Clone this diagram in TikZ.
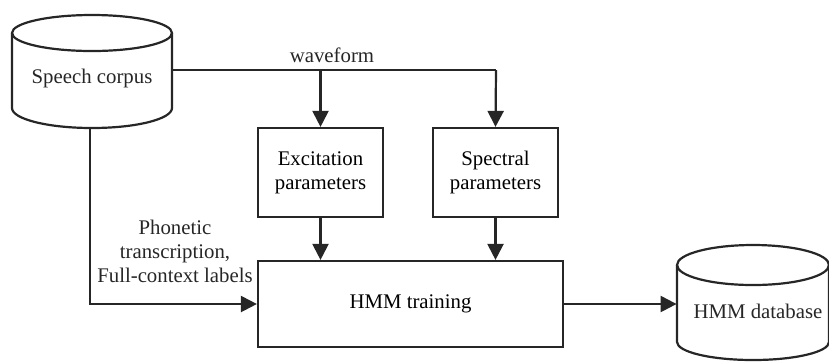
\documentclass[tikz,border=0pt]{standalone}
\usepackage{fontspec}
\setmainfont{Liberation Serif}
\usetikzlibrary{arrows.meta}
\tikzset{
  every node/.style={font=\fontsize{10.4}{12}\selectfont, inner sep=0pt},
  line/.style={line width=1.1pt, draw=black!85},
  arr/.style={line, -{Triangle[length=8pt,width=8pt]}},
  box/.style={line, draw, rectangle, align=center, fill=white},
  region/.style={rectangle, draw=none},
  label/.style={align=center, text=black!85},
}
\begin{document}
\begin{tikzpicture}[x=0.5pt,y=-0.5pt]
\useasboundingbox (0,0) rectangle (829,361);

% database drums
\draw[line] (12,33) -- (12,108) arc[start angle=180,end angle=0,x radius=80,y radius=20] -- (172,33);
\draw[line] (92,33) ellipse [x radius=80, y radius=18];
\draw[line] (677,265) -- (677,342) arc[start angle=180,end angle=0,x radius=76,y radius=18] -- (829,265);
\draw[line] (753,265) ellipse [x radius=76, y radius=20];

% node regions covering the drums
\node[region, minimum width=80pt, minimum height=56.5pt] (corpus) at (92,71.5) {};
\node[region, minimum width=76pt, minimum height=57.5pt] (db) at (753,302.5) {};
\node[label] (corpustext) at (92,78) {Speech corpus};
\node[label] (dbtext) at (758,311) {HMM database};

% processing boxes
\node[box, minimum width=62.5pt, minimum height=44.5pt] (exc) at (320.5,172.5) {Excitation\\parameters};
\node[box, minimum width=62.5pt, minimum height=44.5pt] (spec) at (495.5,172.5) {Spectral\\parameters};
\node[box, minimum width=152.5pt, minimum height=43pt] (hmm) at (410.5,304) {HMM training};

% waveform distribution
\coordinate (wv) at (496,70);
\draw[line] (corpus.east |- wv) -- (wv);
\draw[arr] (wv) -- (spec.north);
\draw[arr] (exc.north |- wv) -- (exc.north);
\node[label, anchor=base] (wvlabel) at (332,62) {waveform};

% parameters into training
\draw[arr] (exc.south) -- (exc.south |- hmm.north);
\draw[arr] (spec.south) -- (spec.south |- hmm.north);

% labels into training
\draw[arr] ([xshift=-1pt]corpus.south) |- (hmm.west);
\node[label] (phlabel) at (175,251) {Phonetic\\transcription,\\Full-context labels};

% training output
\draw[arr] (hmm.east) -- (db.west |- hmm.east);
\end{tikzpicture}
\end{document}
